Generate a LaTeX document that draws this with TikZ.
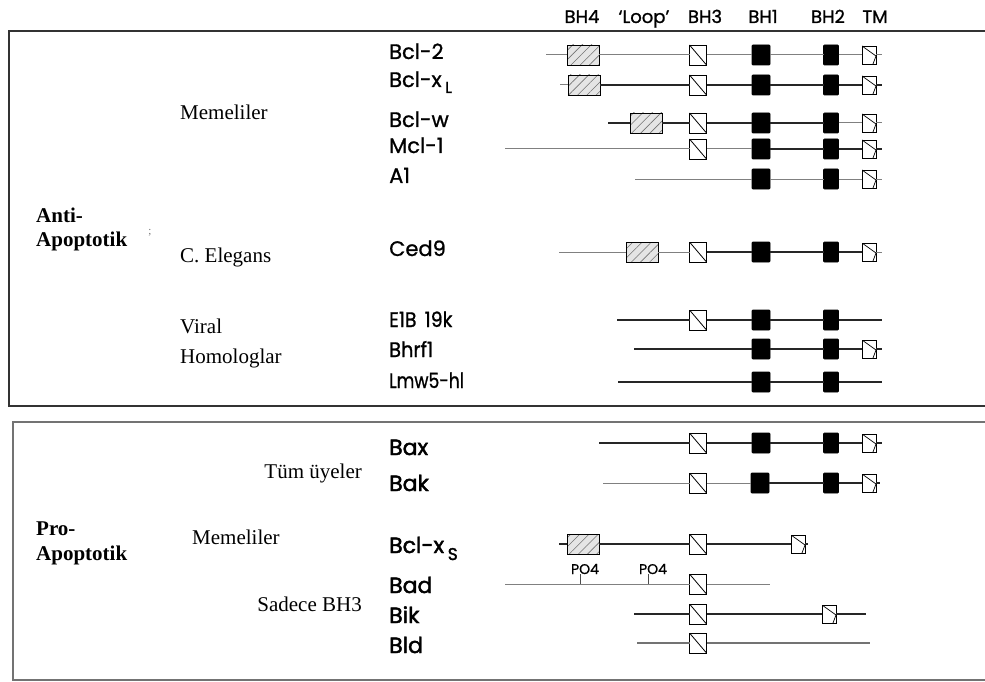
\documentclass[tikz,border=0pt]{standalone}
\usepackage{fontspec}
\usepackage{graphicx}
\setmainfont{Liberation Serif}
\newfontfamily\gfont{Poppins}
\newfontfamily\gfontm[FakeBold=1]{Poppins}
\newfontfamily\gfontb[FakeBold=2]{Poppins}
\usetikzlibrary{patterns.meta}

\begin{document}
\begin{tikzpicture}[x=1bp,y=-1bp,
  frameA/.style={line width=1.4bp, draw=black!80},
  frameB/.style={line width=1.8bp, draw=black!55},
  dk/.style={line width=1.2bp, draw=black!85},
  lt/.style={line width=1bp, draw=black!50},
  ltw/.style={line width=1.6bp, draw=black!55},
  dom/.style={draw=black, line width=0.9bp, inner sep=0, outer sep=0, minimum height=20bp},
  bhfour/.style={dom, minimum width=32bp, preaction={fill=black!10},
    pattern={Lines[angle=45,distance=6.5bp,line width=0.6bp]}, pattern color=black!55},
  bhthree/.style={dom, minimum width=17bp, fill=white,
    path picture={\draw[line width=0.8bp] (path picture bounding box.north west) -- (path picture bounding box.south east);}},
  bhone/.style={dom, minimum width=18bp, fill=black, rounded corners=1bp},
  bhtwo/.style={dom, minimum width=15bp, fill=black, rounded corners=1bp},
  tmbox/.style={dom, minimum width=14bp, minimum height=18bp, fill=white,
    path picture={\draw[line width=0.7bp] (path picture bounding box.north west) -- ([yshift=-1bp]path picture bounding box.east) -- ([xshift=-3bp]path picture bounding box.south east);}},
  gene/.style={anchor=base west, inner sep=0, font=\gfontm\fontsize{21bp}{21bp}\selectfont},
  genep/.style={anchor=base west, inner sep=0, font=\gfontb\fontsize{22bp}{22bp}\selectfont},
  hdr/.style={anchor=base, inner sep=0, font=\gfontm\fontsize{18bp}{18bp}\selectfont},
  po/.style={anchor=base, inner sep=0, font=\gfontm\fontsize{14bp}{14bp}\selectfont},
  grp/.style={anchor=base west, inner sep=0, font=\fontsize{21bp}{21bp}\selectfont},
  grpr/.style={anchor=base east, inner sep=0, font=\fontsize{21bp}{21bp}\selectfont},
  cls/.style={anchor=base west, inner sep=0, font=\bfseries\fontsize{21bp}{21bp}\selectfont}]

\useasboundingbox (0,0) rectangle (985,682);

% frames (open on the right)
\draw[frameA] (985,31) -- (9,31) -- (9,406) -- (985,406);
\draw[frameB] (985,422) -- (13,422) -- (13,680) -- (985,680);

% column headers
\node[hdr] (hBH4) at (582,23) {BH4};
\node[hdr] (hLoop) at (644,23) {‘Loop’};
\node[hdr] (hBH3) at (705,23) {BH3};
\node[hdr] (hBH1) at (763,23) {BH1};
\node[hdr] (hBH2) at (828,23) {BH2};
\node[hdr] (hTM) at (875,23) {TM};

% class and group labels
\node[cls] (antiA) at (36,222) {Anti-};
\node[cls] (antiB) at (36,246) {Apoptotik};
\node[font=\fontsize{11bp}{11bp}\selectfont, text=black!55, inner sep=0] (mk) at (150,233) {;};
\node[grp] (gMam) at (180,120) {Memeliler};
\node[grp] (gCel) at (180,262) {C. Elegans};
\node[grp] (gVirA) at (180,333) {Viral};
\node[grp] (gVirB) at (180,363) {Homologlar};

\node[cls] (proA) at (36,535) {Pro-};
\node[cls] (proB) at (36,560) {Apoptotik};
\node[grpr] (gAll) at (362,478) {Tüm üyeler};
\node[grp] (gMam2) at (192,544) {Memeliler};
\node[grpr] (gBH3) at (362,611) {Sadece BH3};

% gene names
\node[gene] (nBcl2) at (389,59) {Bcl-2};
\node[gene] (nBclxL) at (389,87) {Bcl-x\,\raisebox{-6bp}{\fontsize{16bp}{16bp}\selectfont L}};
\node[gene] (nBclw) at (389,127) {Bcl-w};
\node[gene] (nMcl1) at (389,153) {Mcl-1};
\node[gene] (nA1) at (389,183) {A1};
\node[gene] (nCed9) at (389,256) {Ced9};
\node[gene] (nE1B) at (389,327) {\scalebox{0.9}[1]{E1B\, 19k}};
\node[gene] (nBhrf1) at (389,357) {\scalebox{0.92}[1]{Bhrf1}};
\node[gene] (nLmw) at (389,388) {\scalebox{0.82}[1]{Lmw5-hl}};

\node[genep] (nBax) at (389,455) {Bax};
\node[genep] (nBak) at (389,491) {Bak};
\node[genep] (nBclxS) at (389,553) {Bcl-x\,\raisebox{-7bp}{\fontsize{17bp}{17bp}\selectfont S}};
\node[genep] (nBad) at (389,593) {Bad};
\node[genep] (nBik) at (389,623) {Bik};
\node[genep] (nBld) at (389,653) {Bld};

% ---------- Bcl-2 ----------
\coordinate (a1s) at (546,55); \coordinate (a1e) at (882,55);
\node[bhfour] (a1h4) at (583,55) {};
\node[bhthree] (a1b3) at (698,55) {};
\node[bhone] (a1b1) at (761,55) {};
\node[bhtwo] (a1b2) at (831,55) {};
\node[tmbox] (a1tm) at (869,55) {};
\draw[lt] (a1s) -- (a1h4); \draw[lt] (a1h4) -- (a1b3); \draw[lt] (a1b3) -- (a1b1);
\draw[lt] (a1b1) -- (a1b2); \draw[lt] (a1b2) -- (a1tm); \draw[lt] (a1tm) -- (a1e);

% ---------- Bcl-xL ----------
\coordinate (a2s) at (560,85); \coordinate (a2e) at (882,85);
\node[bhfour] (a2h4) at (584,85) {};
\node[bhthree] (a2b3) at (698,85) {};
\node[bhone] (a2b1) at (761,85) {};
\node[bhtwo] (a2b2) at (831,85) {};
\node[tmbox] (a2tm) at (869,85) {};
\draw[lt] (a2s) -- (a2h4); \draw[dk] (a2h4) -- (a2b3); \draw[dk] (a2b3) -- (a2b1);
\draw[dk] (a2b1) -- (a2b2); \draw[dk] (a2b2) -- (a2tm); \draw[dk] (a2tm) -- (a2e);

% ---------- Bcl-w ----------
\coordinate (a3s) at (608,123); \coordinate (a3e) at (882,123);
\node[bhfour] (a3h4) at (646,123) {};
\node[bhthree] (a3b3) at (698,123) {};
\node[bhone] (a3b1) at (761,123) {};
\node[bhtwo] (a3b2) at (831,123) {};
\node[tmbox] (a3tm) at (869,123) {};
\draw[dk] (a3s) -- (a3h4); \draw[dk] (a3h4) -- (a3b3); \draw[dk] (a3b3) -- (a3b1);
\draw[dk] (a3b1) -- (a3b2); \draw[lt] (a3b2) -- (a3tm); \draw[lt] (a3tm) -- (a3e);

% ---------- Mcl-1 ----------
\coordinate (a4s) at (505,149); \coordinate (a4e) at (882,149);
\node[bhthree] (a4b3) at (698,149) {};
\node[bhone] (a4b1) at (761,149) {};
\node[bhtwo] (a4b2) at (831,149) {};
\node[tmbox] (a4tm) at (869,149) {};
\draw[lt] (a4s) -- (a4b3); \draw[lt] (a4b3) -- (a4b1);
\draw[dk] (a4b1) -- (a4b2); \draw[dk] (a4b2) -- (a4tm); \draw[dk] (a4tm) -- (a4e);

% ---------- A1 ----------
\coordinate (a5s) at (635,179); \coordinate (a5e) at (882,179);
\node[bhone] (a5b1) at (761,179) {};
\node[bhtwo] (a5b2) at (831,179) {};
\node[tmbox] (a5tm) at (869,179) {};
\draw[lt] (a5s) -- (a5b1); \draw[lt] (a5b1) -- (a5b2);
\draw[lt] (a5b2) -- (a5tm); \draw[lt] (a5tm) -- (a5e);

% ---------- Ced9 ----------
\coordinate (a6s) at (559,252); \coordinate (a6e) at (882,252);
\node[bhfour] (a6h4) at (642,252) {};
\node[bhthree] (a6b3) at (698,252) {};
\node[bhone] (a6b1) at (761,252) {};
\node[bhtwo] (a6b2) at (831,252) {};
\node[tmbox] (a6tm) at (869,252) {};
\draw[lt] (a6s) -- (a6h4); \draw[lt] (a6h4) -- (a6b3); \draw[dk] (a6b3) -- (a6b1);
\draw[dk] (a6b1) -- (a6b2); \draw[dk] (a6b2) -- (a6tm); \draw[lt] (a6tm) -- (a6e);

% ---------- E1B 19k ----------
\coordinate (a7s) at (617,320); \coordinate (a7e) at (882,320);
\node[bhthree] (a7b3) at (698,320) {};
\node[bhone] (a7b1) at (761,320) {};
\node[bhtwo] (a7b2) at (831,320) {};
\draw[dk] (a7s) -- (a7b3); \draw[dk] (a7b3) -- (a7b1);
\draw[dk] (a7b1) -- (a7b2); \draw[dk] (a7b2) -- (a7e);

% ---------- Bhrf1 ----------
\coordinate (a8s) at (634,349); \coordinate (a8e) at (882,349);
\node[bhone] (a8b1) at (761,349) {};
\node[bhtwo] (a8b2) at (831,349) {};
\node[tmbox] (a8tm) at (869,349) {};
\draw[dk] (a8s) -- (a8b1); \draw[dk] (a8b1) -- (a8b2);
\draw[dk] (a8b2) -- (a8tm); \draw[dk] (a8tm) -- (a8e);

% ---------- Lmw5-hl ----------
\coordinate (a9s) at (618,382); \coordinate (a9e) at (882,382);
\node[bhone] (a9b1) at (761,382) {};
\node[bhtwo] (a9b2) at (831,382) {};
\draw[dk] (a9s) -- (a9b1); \draw[dk] (a9b1) -- (a9b2); \draw[dk] (a9b2) -- (a9e);

% ---------- Bax ----------
\coordinate (p1s) at (599,443); \coordinate (p1e) at (882,443);
\node[bhthree] (p1b3) at (698,443) {};
\node[bhone] (p1b1) at (761,443) {};
\node[bhtwo] (p1b2) at (831,443) {};
\node[tmbox] (p1tm) at (869,443) {};
\draw[dk] (p1s) -- (p1b3); \draw[dk] (p1b3) -- (p1b1);
\draw[dk] (p1b1) -- (p1b2); \draw[dk] (p1b2) -- (p1tm); \draw[dk] (p1tm) -- (p1e);

% ---------- Bak ----------
\coordinate (p2s) at (603,483); \coordinate (p2e) at (880,483);
\node[bhthree] (p2b3) at (698,483) {};
\node[bhone] (p2b1) at (760,483) {};
\node[bhtwo] (p2b2) at (831,483) {};
\node[tmbox] (p2tm) at (869,483) {};
\draw[lt] (p2s) -- (p2b3); \draw[lt] (p2b3) -- (p2b1);
\draw[dk] (p2b1) -- (p2b2); \draw[dk] (p2b2) -- (p2tm); \draw[dk] (p2tm) -- (p2e);

% ---------- Bcl-xS ----------
\coordinate (p3s) at (559,544); \coordinate (p3e) at (808,544);
\node[bhfour] (p3h4) at (583,544) {};
\node[bhthree] (p3b3) at (698,544) {};
\node[tmbox] (p3tm) at (798,544) {};
\draw[dk] (p3s) -- (p3h4); \draw[dk] (p3h4) -- (p3b3);
\draw[dk] (p3b3) -- (p3tm); \draw[dk] (p3tm) -- (p3e);

% ---------- Bad ----------
\coordinate (p4s) at (505,584); \coordinate (p4e) at (770,584);
\node[bhthree] (p4b3) at (698,584) {};
\draw[lt] (p4s) -- (p4b3); \draw[lt] (p4b3) -- (p4e);
\coordinate (t1) at (580,584); \coordinate (t2) at (648,584);
\node[po] (po1) at (585,574) {PO4};
\node[po] (po2) at (653,574) {PO4};
\draw[line width=0.7bp, black!70] (t1 |- po1.south) -- (t1);
\draw[line width=0.7bp, black!70] (t2 |- po2.south) -- (t2);

% ---------- Bik ----------
\coordinate (p5s) at (634,614); \coordinate (p5e) at (866,614);
\node[bhthree] (p5b3) at (698,614) {};
\node[tmbox] (p5tm) at (829,614) {};
\draw[dk] (p5s) -- (p5b3); \draw[dk] (p5b3) -- (p5tm); \draw[dk] (p5tm) -- (p5e);

% ---------- Bld ----------
\coordinate (p6s) at (637,643); \coordinate (p6e) at (870,643);
\node[bhthree] (p6b3) at (698,643) {};
\draw[ltw] (p6s) -- (p6b3); \draw[ltw] (p6b3) -- (p6e);

\end{tikzpicture}
\end{document}
